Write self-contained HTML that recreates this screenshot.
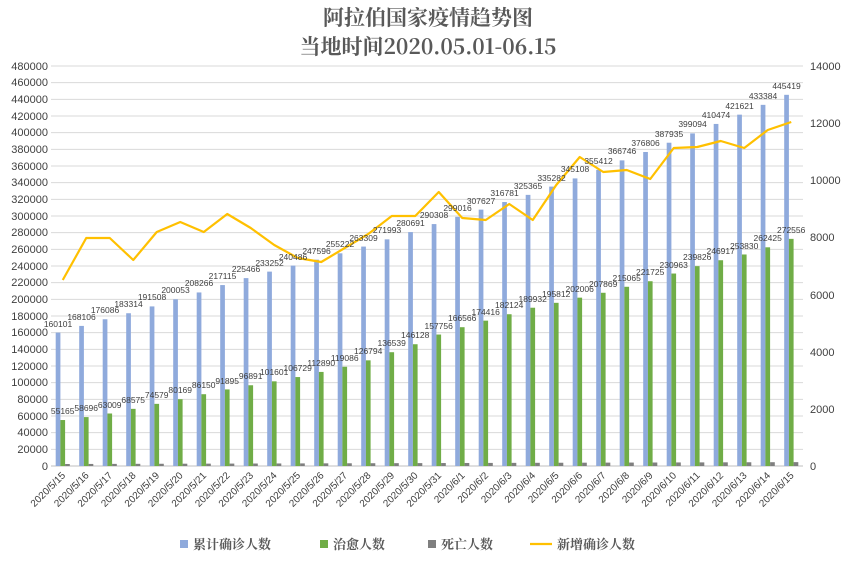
<!DOCTYPE html>
<html><head><meta charset="utf-8"><style>
body{margin:0;background:#fff;}
svg{display:block;font-family:"Liberation Sans","Noto Sans CJK SC",sans-serif;}
</style></head><body>
<svg id="c" width="847" height="561" viewBox="0 0 847 561">
<rect width="847" height="561" fill="#fff"/>
<g id="grid"></g>
<g id="bars"></g>
<polyline id="ln" fill="none" stroke="#ffc000" stroke-width="2.2" stroke-linejoin="round"/>
<g font-family="'Noto Serif CJK SC','Liberation Serif',serif" font-weight="bold" fill="#595959" font-size="21" text-anchor="middle">
<text x="428" y="25">阿拉伯国家疫情趋势图</text>
<text x="428" y="54">当地时间2020.05.01-06.15</text>
</g>
<g font-size="11" fill="#404040" text-anchor="end">
<text x="48" y="470">0</text><text x="48" y="453">20000</text><text x="48" y="436">40000</text><text x="48" y="420">60000</text><text x="48" y="403">80000</text><text x="48" y="386">100000</text><text x="48" y="370">120000</text><text x="48" y="353">140000</text><text x="48" y="336">160000</text><text x="48" y="320">180000</text><text x="48" y="303">200000</text><text x="48" y="286">220000</text><text x="48" y="270">240000</text><text x="48" y="253">260000</text><text x="48" y="236">280000</text><text x="48" y="220">300000</text><text x="48" y="203">320000</text><text x="48" y="186">340000</text><text x="48" y="170">360000</text><text x="48" y="153">380000</text><text x="48" y="136">400000</text><text x="48" y="120">420000</text><text x="48" y="103">440000</text><text x="48" y="86">460000</text><text x="48" y="70">480000</text>
</g>
<g font-size="11" fill="#404040">
<text x="810" y="470">0</text><text x="810" y="413">2000</text><text x="810" y="356">4000</text><text x="810" y="299">6000</text><text x="810" y="241">8000</text><text x="810" y="184">10000</text><text x="810" y="127">12000</text><text x="810" y="70">14000</text>
</g>
<g font-size="8.5" fill="#404040" text-anchor="middle">
<text x="58" y="327">160101</text><text x="81.5" y="320">168106</text><text x="105" y="313">176086</text><text x="128.5" y="307">183314</text><text x="152" y="300">191508</text><text x="175.5" y="293">200053</text><text x="199" y="286">208266</text><text x="222.5" y="279">217115</text><text x="246" y="272">225466</text><text x="269.5" y="266">233252</text><text x="293" y="260">240486</text><text x="316.5" y="254">247596</text><text x="340" y="247">255222</text><text x="363.5" y="241">263309</text><text x="387" y="233">271993</text><text x="410.5" y="226">280691</text><text x="434" y="218">290308</text><text x="457.5" y="211">299016</text><text x="481" y="204">307627</text><text x="504.5" y="196">316781</text><text x="528" y="189">325365</text><text x="551.5" y="181">335282</text><text x="575" y="172">345108</text><text x="598.5" y="164">355412</text><text x="622" y="154">366746</text><text x="645.5" y="146">376806</text><text x="669" y="137">387935</text><text x="692.5" y="127">399094</text><text x="716" y="118">410474</text><text x="739.5" y="109">421621</text><text x="763" y="99">433384</text><text x="786.5" y="89">445419</text>
<text x="62.7" y="414">55165</text><text x="86.2" y="411">58696</text><text x="109.7" y="408">63009</text><text x="133.2" y="403">68575</text><text x="156.7" y="398">74579</text><text x="180.2" y="393">80169</text><text x="203.7" y="388">86150</text><text x="227.2" y="384">91895</text><text x="250.7" y="379">96891</text><text x="274.2" y="375">101601</text><text x="297.7" y="371">106729</text><text x="321.2" y="366">112890</text><text x="344.7" y="361">119086</text><text x="368.2" y="354">126794</text><text x="391.7" y="346">136539</text><text x="415.2" y="338">146128</text><text x="438.7" y="329">157756</text><text x="462.2" y="321">166566</text><text x="485.7" y="315">174416</text><text x="509.2" y="308">182124</text><text x="532.7" y="302">189932</text><text x="556.2" y="297">195812</text><text x="579.7" y="292">202006</text><text x="603.2" y="287">207869</text><text x="626.7" y="281">215065</text><text x="650.2" y="275">221725</text><text x="673.7" y="268">230963</text><text x="697.2" y="260">239826</text><text x="720.7" y="254">246917</text><text x="744.2" y="249">253830</text><text x="767.7" y="241">262425</text><text x="791.2" y="233">272556</text>
</g>
<g font-size="10" fill="#404040" text-anchor="end">
<text transform="translate(66,476) rotate(-45)">2020/5/15</text><text transform="translate(89.5,476) rotate(-45)">2020/5/16</text><text transform="translate(113,476) rotate(-45)">2020/5/17</text><text transform="translate(136.5,476) rotate(-45)">2020/5/18</text><text transform="translate(160,476) rotate(-45)">2020/5/19</text><text transform="translate(183.5,476) rotate(-45)">2020/5/20</text><text transform="translate(207,476) rotate(-45)">2020/5/21</text><text transform="translate(230.5,476) rotate(-45)">2020/5/22</text><text transform="translate(254,476) rotate(-45)">2020/5/23</text><text transform="translate(277.5,476) rotate(-45)">2020/5/24</text><text transform="translate(301,476) rotate(-45)">2020/5/25</text><text transform="translate(324.5,476) rotate(-45)">2020/5/26</text><text transform="translate(348,476) rotate(-45)">2020/5/27</text><text transform="translate(371.5,476) rotate(-45)">2020/5/28</text><text transform="translate(395,476) rotate(-45)">2020/5/29</text><text transform="translate(418.5,476) rotate(-45)">2020/5/30</text><text transform="translate(442,476) rotate(-45)">2020/5/31</text><text transform="translate(465.5,476) rotate(-45)">2020/6/1</text><text transform="translate(489,476) rotate(-45)">2020/6/2</text><text transform="translate(512.5,476) rotate(-45)">2020/6/3</text><text transform="translate(536,476) rotate(-45)">2020/6/4</text><text transform="translate(559.5,476) rotate(-45)">2020/6/5</text><text transform="translate(583,476) rotate(-45)">2020/6/6</text><text transform="translate(606.5,476) rotate(-45)">2020/6/7</text><text transform="translate(630,476) rotate(-45)">2020/6/8</text><text transform="translate(653.5,476) rotate(-45)">2020/6/9</text><text transform="translate(677,476) rotate(-45)">2020/6/10</text><text transform="translate(700.5,476) rotate(-45)">2020/6/11</text><text transform="translate(724,476) rotate(-45)">2020/6/12</text><text transform="translate(747.5,476) rotate(-45)">2020/6/13</text><text transform="translate(771,476) rotate(-45)">2020/6/14</text><text transform="translate(794.5,476) rotate(-45)">2020/6/15</text>
</g>
<g font-size="13" font-weight="bold" fill="#595959" font-family="'Noto Serif CJK SC','Liberation Serif',serif">
<rect x="180" y="540" width="8" height="8" fill="#8faadc"/><text x="193" y="549">累计确诊人数</text>
<rect x="320" y="540" width="8" height="8" fill="#70ad47"/><text x="333" y="549">治愈人数</text>
<rect x="428" y="540" width="8" height="8" fill="#7f7f7f"/><text x="441" y="549">死亡人数</text>
<line x1="530" y1="544" x2="552" y2="544" stroke="#ffc000" stroke-width="2.2"/><text x="557" y="549">新增确诊人数</text>
</g>
</svg>
<script>
var NS="http://www.w3.org/2000/svg";
function el(p,t,a){var e=document.createElementNS(NS,t);for(var k in a)e.setAttribute(k,a[k]);p.appendChild(e);}
var g=document.getElementById('grid');
for(var k=0;k<=24;k++){var y=466-k*400/24;el(g,'line',{x1:51,x2:803,y1:y,y2:y,stroke:k==0?'#bfbfbf':'#d9d9d9','stroke-width':1});}
var B=[160101,168106,176086,183314,191508,200053,208266,217115,225466,233252,240486,247596,255222,263309,271993,280691,290308,299016,307627,316781,325365,335282,345108,355412,366746,376806,387935,399094,410474,421621,433384,445419];
var G=[55165,58696,63009,68575,74579,80169,86150,91895,96891,101601,106729,112890,119086,126794,136539,146128,157756,166566,174416,182124,189932,195812,202006,207869,215065,221725,230963,239826,246917,253830,262425,272556];
var L=[280,238,238,260,232,222,232,214,228,245,258,262,248,234,216,216,192,218,220,204,220,185,157,172,170,179,148,147,141,148,130,122];
var b=document.getElementById('bars'),pts=[];
for(var i=0;i<32;i++){var s=51+23.5*i;
 el(b,'rect',{x:s+4.7,y:466-B[i]/1200,width:4.7,height:B[i]/1200,fill:'#8faadc'});
 el(b,'rect',{x:s+9.4,y:466-G[i]/1200,width:4.7,height:G[i]/1200,fill:'#70ad47'});
 var d=2+i*0.06;el(b,'rect',{x:s+14.1,y:466-d,width:4.7,height:d,fill:'#7f7f7f'});
 pts.push((s+11.75)+','+L[i]);}
document.getElementById('ln').setAttribute('points',pts.join(' '));
</script>
</body></html>
